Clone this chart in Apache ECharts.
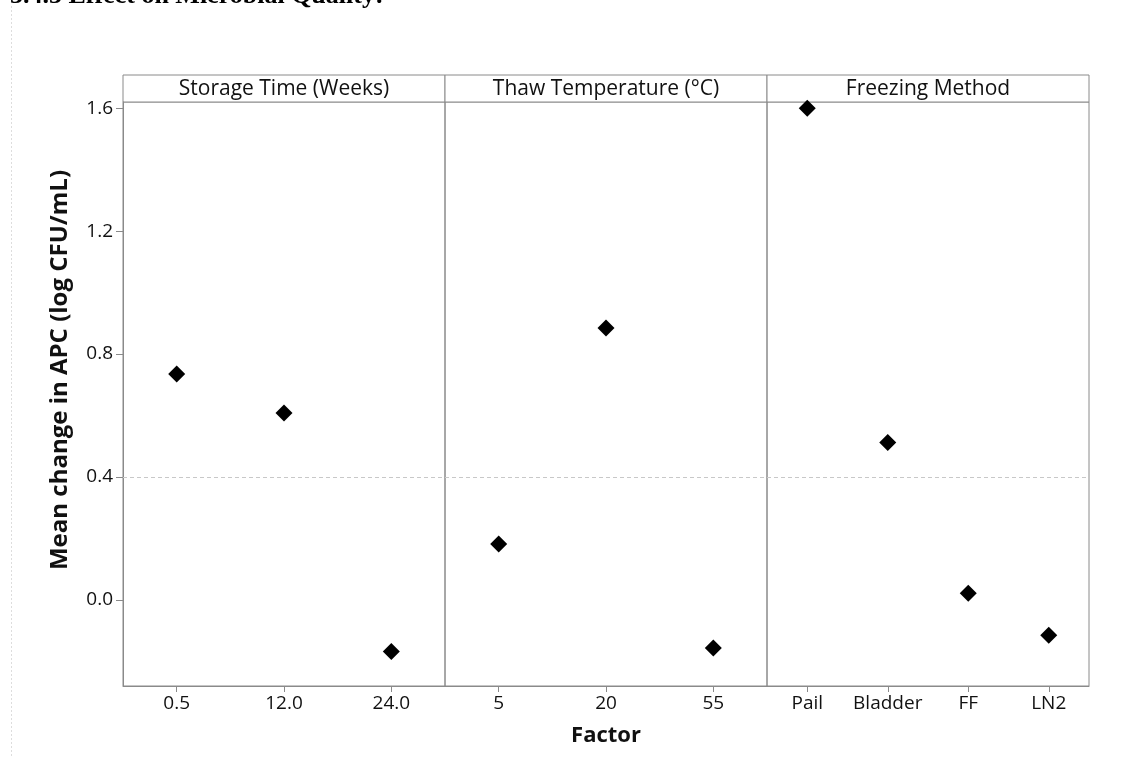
<!DOCTYPE html>
<html>
<head>
<meta charset="utf-8">
<script src="https://cdn.jsdelivr.net/npm/echarts@6/dist/echarts.min.js"></script>
<style>
html,body{margin:0;padding:0;background:#fff;}
#chart{width:1133px;height:758px;}
</style>
</head>
<body>
<div id="chart"></div>
<script>
// ---- data ----
const panelTitles = ['Storage Time (Weeks)', 'Thaw Temperature (°C)', 'Freezing Method'];
const storageCats = ['0.5', '12.0', '24.0'];
const storageVals = [0.735, 0.608, -0.168];
const thawCats = ['5', '20', '55'];
const thawVals = [0.182, 0.885, -0.156];
const freezeCats = ['Pail', 'Bladder', 'FF', 'LN2'];
const freezeVals = [1.600, 0.512, 0.022, -0.115];
const yTicks = [0, 0.4, 0.8, 1.2, 1.6];
const refValue = 0.4;
const yTitle = 'Mean change in APC (log CFU/mL)';
const xTitle = 'Factor';
const heading = '3.4.3 Effect on Microbial Quality:';

// ---- layout ----
const FONT = '"Open Sans", "Noto Sans", sans-serif';
const L = 123, W = 322, TOP = 102, H = 584, HDR_TOP = 75;
const YMIN = -0.28, YMAX = 1.62;
const GRID_COL = '#8a8a8a';

const cats = [storageCats, thawCats, freezeCats];
const vals = [storageVals, thawVals, freezeVals];

const grids = [], xAxes = [], yAxes = [], series = [], graphics = [];
for (let i = 0; i < 3; i++) {
  grids.push({left: L + i * W, top: TOP, width: W, height: H, show: true,
    borderColor: GRID_COL, borderWidth: 1, containLabel: false});
  xAxes.push({type: 'category', gridIndex: i, data: cats[i], boundaryGap: true,
    axisLine: {show: true, onZero: false, lineStyle: {color: GRID_COL}},
    axisTick: {show: true, alignWithLabel: true, interval: 0, length: 6, lineStyle: {color: GRID_COL}},
    axisLabel: {interval: 0, color: '#111', fontFamily: FONT, fontSize: 19, margin: 8},
    splitLine: {show: false}});
  yAxes.push({type: 'value', gridIndex: i, min: YMIN, max: YMAX,
    axisLine: {show: i === 0, onZero: false, lineStyle: {color: GRID_COL}},
    axisTick: {show: i === 0, length: 7, customValues: yTicks, lineStyle: {color: GRID_COL}},
    axisLabel: {show: i === 0, customValues: yTicks, color: '#111', fontFamily: FONT, fontSize: 19, margin: 10,
      formatter: v => v.toFixed(1)},
    splitLine: {show: false}});
  series.push({type: 'scatter', xAxisIndex: i, yAxisIndex: i, data: vals[i],
    symbol: 'diamond', symbolSize: 17, itemStyle: {color: '#000', opacity: 1},
    markLine: {silent: true, symbol: 'none', label: {show: false},
      lineStyle: {color: '#c8c8c8', type: [4, 3], width: 1},
      data: [{yAxis: refValue}]}});
  graphics.push({type: 'rect', shape: {x: L + i * W, y: HDR_TOP, width: W, height: TOP - HDR_TOP},
    style: {fill: '#fff', stroke: GRID_COL, lineWidth: 1}});
  graphics.push({type: 'text', x: L + i * W + W / 2, y: (HDR_TOP + TOP) / 2 + 1,
    style: {text: panelTitles[i], fill: '#111', font: '21px ' + FONT, align: 'center', verticalAlign: 'middle'}});
}
// axis titles
graphics.push({type: 'text', x: 60, y: 370, rotation: Math.PI / 2,
  style: {text: yTitle, fill: '#111', font: 'bold 24px ' + FONT, align: 'center', verticalAlign: 'middle'}});
graphics.push({type: 'text', x: L + 1.5 * W, y: 736,
  style: {text: xTitle, fill: '#111', font: 'bold 22px ' + FONT, align: 'center', verticalAlign: 'middle'}});
// cropped document heading and page edge
graphics.push({type: 'text', x: 10, y: 9,
  style: {text: heading, fill: '#000', font: 'bold 26px "Liberation Serif", "DejaVu Serif", serif', align: 'left', verticalAlign: 'bottom'}});
graphics.push({type: 'line', shape: {x1: 11.5, y1: 6, x2: 11.5, y2: 758},
  style: {stroke: '#dddddd', lineWidth: 1, lineDash: [2, 2]}});

const chart = echarts.init(document.getElementById('chart'), null, {renderer: 'canvas'});
chart.setOption({
  backgroundColor: '#fff',
  animation: false,
  grid: grids, xAxis: xAxes, yAxis: yAxes, series: series,
  graphic: graphics
});
</script>
</body>
</html>
